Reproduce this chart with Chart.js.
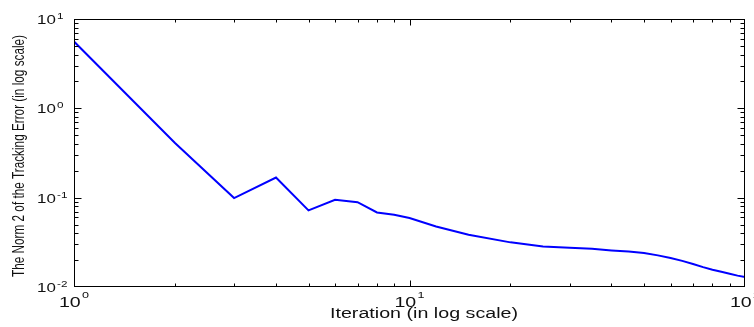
<!DOCTYPE html>
<html><head><meta charset="utf-8">
<script src="https://cdn.jsdelivr.net/npm/chart.js@4"></script>
<style>html,body{margin:0;padding:0;background:#fff;}canvas{display:block}</style>
</head><body>
<canvas id="c" width="754" height="327"></canvas>
<script>
// ---- data ----
const iterations = [1, 2, 3, 4, 5, 6, 7, 8, 9, 10, 12, 15, 20, 25, 30, 35, 40, 45, 50, 55, 60, 65, 70, 75, 80, 85, 90, 95, 100];
const trackingError = [5.6, 0.41, 0.099, 0.168, 0.072, 0.0947, 0.089, 0.0683, 0.0645, 0.0591, 0.0476, 0.0384, 0.0316, 0.0284, 0.0275, 0.0268, 0.0257, 0.0249, 0.024, 0.0226, 0.0211, 0.0196, 0.0181, 0.0167, 0.0156, 0.0148, 0.0141, 0.0134, 0.0129];
const xTickExponents = [0, 1, 2];
const yTickExponents = [-2, -1, 0, 1];
const xTitle = 'Iteration (in log scale)';
const yTitle = 'The Norm 2 of the Tracking Error (in log scale)';

const FONT = '"Liberation Sans", Arial, sans-serif';
const STRETCH = 1.4;

function minorValues(minExp, maxExp) {
  const v = [];
  for (let e = minExp; e < maxExp; e++) for (let m = 2; m <= 9; m++) v.push(m * Math.pow(10, e));
  return v;
}

const axesPlugin = {
  id: 'matlabAxes',
  afterDraw(chart) {
    const { ctx, chartArea: a, scales: { x, y } } = chart;
    const L = a.left + 0.5, R = a.right - 0.5, T = a.top + 0.5, B = a.bottom - 0.5;
    const cx = v => Math.min(R, Math.max(L, Math.round(x.getPixelForValue(v)) + 0.5));
    const cy = v => Math.min(B, Math.max(T, Math.round(y.getPixelForValue(v)) + 0.5));
    ctx.save();
    ctx.strokeStyle = '#000';
    ctx.lineWidth = 1;
    ctx.beginPath();
    xTickExponents.forEach(e => { const p = cx(Math.pow(10, e)); ctx.moveTo(p, B); ctx.lineTo(p, B - 6); ctx.moveTo(p, T); ctx.lineTo(p, T + 6); });
    minorValues(xTickExponents[0], xTickExponents[xTickExponents.length - 1]).forEach(v => { const p = cx(v); ctx.moveTo(p, B); ctx.lineTo(p, B - 3); ctx.moveTo(p, T); ctx.lineTo(p, T + 3); });
    yTickExponents.forEach(e => { const p = cy(Math.pow(10, e)); ctx.moveTo(L, p); ctx.lineTo(L + 7, p); ctx.moveTo(R, p); ctx.lineTo(R - 7, p); });
    minorValues(yTickExponents[0], yTickExponents[yTickExponents.length - 1]).forEach(v => { const p = cy(v); ctx.moveTo(L, p); ctx.lineTo(L + 4, p); ctx.moveTo(R, p); ctx.lineTo(R - 4, p); });
    ctx.stroke();
    ctx.strokeRect(L, T, R - L, B - T);

    ctx.fillStyle = '#111';
    ctx.textBaseline = 'alphabetic';
    ctx.textAlign = 'left';
    const expText = e => (e < 0 ? '-' : '') + Math.abs(e);

    // y tick labels
    yTickExponents.forEach(e => {
      const p = y.getPixelForValue(Math.pow(10, e));
      ctx.save();
      ctx.translate(37, p + 5);
      ctx.scale(1.3, 1);
      ctx.font = '13px ' + FONT;
      const w = ctx.measureText('10').width;
      ctx.fillText('10', 0, 0);
      ctx.font = '9px ' + FONT;
      ctx.fillText(expText(e), w + 1, -5);
      ctx.restore();
    });

    // x tick labels
    xTickExponents.forEach(e => {
      const p = x.getPixelForValue(Math.pow(10, e));
      ctx.save();
      ctx.font = '14px ' + FONT;
      const w = ctx.measureText('10').width;
      ctx.font = '9px ' + FONT;
      const we = ctx.measureText(expText(e)).width;
      const total = (w + 1 + we) * STRETCH;
      ctx.translate(p - total / 2, 307);
      ctx.scale(STRETCH, 1);
      ctx.font = '14px ' + FONT;
      ctx.fillText('10', 0, 0);
      ctx.font = '9px ' + FONT;
      ctx.fillText(expText(e), w + 1, -9);
      ctx.restore();
    });

    // x title
    ctx.save();
    ctx.font = '14px ' + FONT;
    const xw = ctx.measureText(xTitle).width;
    ctx.translate(330, 318);
    ctx.scale(188 / xw, 1);
    ctx.fillText(xTitle, 0, 0);
    ctx.restore();

    // y title
    ctx.save();
    ctx.font = '11.7px ' + FONT;
    const yw = ctx.measureText(yTitle).width;
    ctx.translate(23.5, 156);
    ctx.rotate(-Math.PI / 2);
    ctx.scale(242 / yw, STRETCH);
    ctx.textAlign = 'center';
    ctx.fillText(yTitle, 0, 0);
    ctx.restore();

    ctx.restore();
  }
};

new Chart(document.getElementById('c'), {
  type: 'line',
  data: {
    datasets: [{
      data: iterations.map((v, i) => ({ x: v, y: trackingError[i] })),
      borderColor: '#0000ff',
      borderWidth: 2,
      pointRadius: 0,
      fill: false,
      tension: 0
    }]
  },
  options: {
    responsive: false,
    animation: false,
    devicePixelRatio: 1,
    layout: { padding: { left: 74, right: 9, top: 19, bottom: 40 } },
    plugins: { legend: { display: false }, tooltip: { enabled: false } },
    scales: {
      x: { type: 'logarithmic', min: 1, max: 100, display: false },
      y: { type: 'logarithmic', min: 0.01, max: 10, display: false }
    }
  },
  plugins: [axesPlugin]
});
</script>
</body></html>
